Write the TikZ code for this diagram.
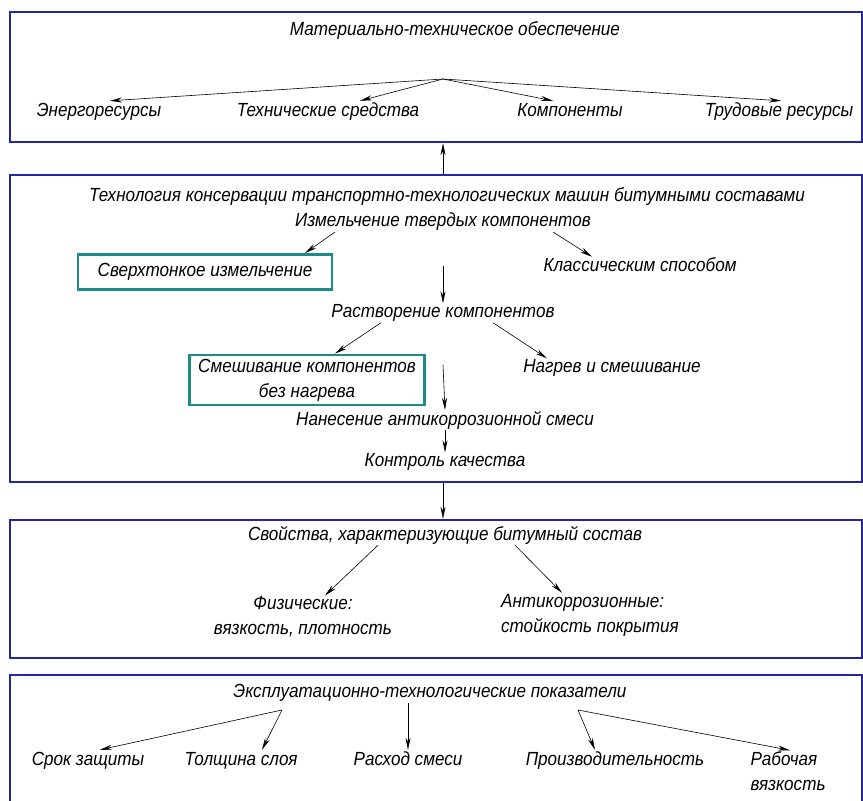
\documentclass[tikz,border=0pt]{standalone}
\usepackage{fontspec}
\setmainfont{Liberation Sans}[FakeStretch=0.9]
\usetikzlibrary{arrows.meta}
\definecolor{panelblue}{RGB}{38,38,165}
\definecolor{pickteal}{RGB}{28,140,135}

\begin{document}
\begin{tikzpicture}[x=1pt,y=-1pt]
			\tikzset{bpanel/.style={draw=panelblue, line width=2.4pt,
						minimum width=852pt, inner sep=0pt}}
			\tikzset{btext/.style={font=\itshape\fontsize{19}{25}\selectfont,
						inner sep=1pt, align=center}}
			\tikzset{bline/.style={text height=14pt, text depth=4pt}}
			\tikzset{bpick/.style={draw=pickteal, line width=2.8pt}}
			\tikzset{barrow/.style={line width=0.6pt,
						-{Stealth[length=12pt, width=5pt]}}}

			\useasboundingbox (0,0) rectangle (863,801);

			% panels
			\node[bpanel, minimum height=130pt] (p1) at (436,77) {};
			\node[bpanel, minimum height=307pt] (p2) at (436,328.5) {};
			\node[bpanel, minimum height=138pt] (p3) at (436,589) {};
			\node[bpanel, minimum height=140pt] (p4) at (436,745) {};

			% material resources
			\node[btext] (mat) at (455,31) {Материально-техническое обеспечение};
			\coordinate (matfork) at (443,79);
			\node[btext, bline] (energ) at (99,111) {Энергоресурсы};
			\node[btext, bline] (tech) at (328,111) {Технические средства};
			\node[btext, bline] (komp) at (570,111) {Компоненты};
			\node[btext, bline] (trud) at (779,111) {Трудовые ресурсы};

			\draw[barrow] (matfork) -- ([xshift=11pt]energ.north);
			\draw[barrow] (matfork) -- ([xshift=32pt]tech.north);
			\draw[barrow] (matfork) -- ([xshift=-17pt]komp.north);
			\draw[barrow] (matfork) -- ([xshift=2pt]trud.north);

			% technology
			\node[btext] (tkm) at (447,196) {Технология консервации транспортно-технологических машин битумными составами};
			\node[btext] (izm) at (443,222) {Измельчение твердых компонентов};
			\node[btext, bpick, minimum width=254pt, minimum height=35pt] (svt) at (205,272) {Сверхтонкое измельчение};
			\node[btext] (klass) at (640,265) {Классическим способом};
			\node[btext] (rast) at (443,313) {Растворение компонентов};
			\node[btext, bpick, minimum width=235pt, minimum height=50pt] (smb) at (307,380) {Смешивание компонентов\\без нагрева};
			\node[btext] (nagr) at (612,368) {Нагрев и смешивание};
			\node[btext] (nan) at (445,420) {Нанесение антикоррозионной смеси};
			\node[btext] (kontr) at (445,462) {Контроль качества};

			\draw[barrow] ([xshift=-108pt]izm.south) -- ([xshift=100pt]svt.north);
			\draw[barrow] ([xshift=110pt]izm.south) -- ([xshift=-48pt]klass.north);
			\draw[barrow] ([yshift=-34pt]izm.south) -- (rast.north);
			\draw[barrow] ([xshift=-62pt]rast.south) -- ([xshift=28pt]smb.north);
			\draw[barrow] ([xshift=50pt]rast.south) -- ([xshift=-65pt]nagr.north);
			\draw[barrow] ([yshift=-42pt]rast.south) -- (nan.north);
			\draw[barrow] (nan.south) -- (kontr.north);

			% properties
			\node[btext] (svo) at (445,535) {Свойства, характеризующие битумный состав};
			\node[btext] (fiz) at (303,617) {Физические:\\вязкость, плотность};
			\node[btext, align=left] (anti) at (590,615) {Антикоррозионные:\\стойкость покрытия};

			\draw[barrow] ([xshift=-67pt]svo.south) -- ([xshift=22pt]fiz.north);
			\draw[barrow] ([xshift=70pt]svo.south) -- ([xshift=-28pt]anti.north);

			% indicators
			\node[btext] (eks) at (430,693) {Эксплуатационно-технологические показатели};
			\coordinate (eksl) at (282,710);
			\coordinate (eksr) at (578,710);
			\node[btext, bline] (srok) at (88,760) {Срок защиты};
			\node[btext, bline] (tol) at (241,760) {Толщина слоя};
			\node[btext, bline] (rash) at (408,760) {Расход смеси};
			\node[btext, bline] (proizv) at (615,760) {Производительность};
			\node[btext, align=left] (rab) at (788,771) {Рабочая\\вязкость};

			\draw[barrow] (eksl) -- ([xshift=12pt]srok.north);
			\draw[barrow] (eksl) -- ([xshift=21pt]tol.north);
			\draw[barrow] (eks.south -| rash.north) -- (rash.north);
			\draw[barrow] (eksr) -- ([xshift=-20pt]proizv.north);
			\draw[barrow] (eksr) -- ([xshift=2pt]rab.north);

			% links between panels
			\draw[barrow] (p2.north -| izm) -- (p1.south -| izm);
			\draw[barrow] (p2.south -| izm) -- (p3.north -| izm);
		\end{tikzpicture}
\end{document}
